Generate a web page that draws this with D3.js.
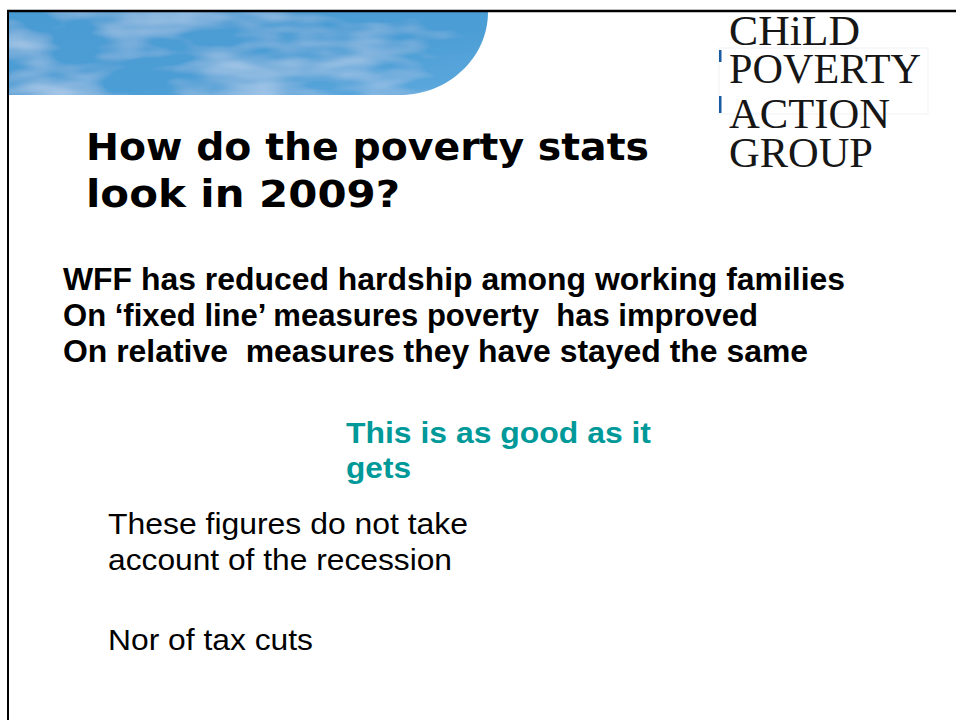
<!DOCTYPE html>
<html><head><meta charset="utf-8">
<script src="https://cdn.jsdelivr.net/npm/d3@7"></script>
<style>html,body{margin:0;padding:0;background:#fff;}svg{display:block;}</style>
</head><body>
<script>
const titleLines = ["How do the poverty stats", "look in 2009?"];
const bulletLines = ["WFF has reduced hardship among working families",
  "On \u2018fixed line\u2019 measures poverty  has improved",
  "On relative  measures they have stayed the same"];
const highlightLines = ["This is as good as it", "gets"];
const noteLines = ["These figures do not take", "account of the recession"];
const noteLast = ["Nor of tax cuts"];
const logoLines = ["CHiLD", "POVERTY", "ACTION", "GROUP"];

const W = 956, H = 720;
const svg = d3.select("body").append("svg").attr("width", W).attr("height", H);

// sky banner
const defs = svg.append("defs");
const g = defs.append("linearGradient").attr("id","sky").attr("x1","0").attr("y1","0").attr("x2","1").attr("y2","1");
g.append("stop").attr("offset","0").attr("stop-color","#4a9bd3");
g.append("stop").attr("offset","0.6").attr("stop-color","#4c9ed5");
g.append("stop").attr("offset","1").attr("stop-color","#5ea9de");
const f = defs.append("filter").attr("id","clouds").attr("x","0").attr("y","0").attr("width","1").attr("height","1");
f.append("feTurbulence").attr("type","fractalNoise").attr("baseFrequency","0.01 0.035").attr("numOctaves",3).attr("seed",7).attr("result","n");
f.append("feColorMatrix").attr("in","n").attr("type","matrix")
  .attr("values","0 0 0 0 0.85  0 0 0 0 0.92  0 0 0 0 1  0 0 0 0.9 -0.38").attr("result","c");
f.append("feComposite").attr("in","c").attr("in2","SourceGraphic").attr("operator","in").attr("result","cc");
f.append("feMerge").call(m=>{m.append("feMergeNode").attr("in","SourceGraphic");m.append("feMergeNode").attr("in","cc");});

const bx0 = 9, by0 = 12, bx1 = 488, by1 = 95, cx = 400;
const path = d3.path();
path.moveTo(bx0, by0); path.lineTo(bx1, by0);
path.bezierCurveTo(bx1, by0 + (by1-by0)*0.55, cx + (bx1-cx)*0.55, by1, cx, by1);
path.lineTo(bx0, by1); path.closePath();
svg.append("path").attr("d", path.toString()).attr("fill","url(#sky)").attr("filter","url(#clouds)");

// frame lines
svg.append("line").attr("x1",7).attr("x2",W).attr("y1",11).attr("y2",11).attr("stroke","#000").attr("stroke-width",2.5);
svg.append("line").attr("x1",8).attr("x2",8).attr("y1",10).attr("y2",H).attr("stroke","#000").attr("stroke-width",2);

// logo
svg.append("rect").attr("x",719).attr("y",48).attr("width",209).attr("height",66).attr("fill","none").attr("stroke","#eef1f5").attr("stroke-width",1);
svg.append("rect").attr("x",719).attr("y",50).attr("width",2.5).attr("height",12).attr("fill","#1a5aa0");
svg.append("rect").attr("x",719).attr("y",96).attr("width",2.5).attr("height",17).attr("fill","#1a5aa0");
const logoBase = [45, 83, 128, 167];
const logoW = [131, 192, 161, 144];
svg.append("g").selectAll("text").data(logoLines).join("text")
  .attr("x", 729).attr("y", (d,i) => logoBase[i])
  .attr("font-family","'Liberation Serif', 'DejaVu Serif', serif").attr("font-size",42).attr("fill","#161616")
  .attr("textLength", (d,i) => logoW[i]).attr("lengthAdjust","spacingAndGlyphs")
  .text(d => d);

function block(lines, x, y0, dy, size, weight, color, family, widths) {
  svg.append("g").selectAll("text").data(lines).join("text")
    .attr("x", x).attr("y", (d,i) => y0 + i*dy)
    .attr("font-family", family).attr("font-size", size).attr("font-weight", weight).attr("fill", color)
    .attr("textLength", (d,i) => widths[i]).attr("lengthAdjust","spacingAndGlyphs")
    .style("white-space","pre")
    .text(d => d);
}
block(titleLines, 86, 160, 47, 37, "bold", "#000", "'DejaVu Sans', Verdana, sans-serif", [563, 314]);
block(bulletLines, 63, 290, 36, 32, "bold", "#000", "'Liberation Sans', Arial, sans-serif", [782, 695, 745]);
block(highlightLines, 346, 443, 35, 30, "bold", "#009999", "'Liberation Sans', Arial, sans-serif", [305, 65]);
block(noteLines, 108, 534, 36, 30, "normal", "#000", "'Liberation Sans', Arial, sans-serif", [360, 344]);
block(noteLast, 108, 650, 0, 30, "normal", "#000", "'Liberation Sans', Arial, sans-serif", [205]);
</script>
</body></html>
